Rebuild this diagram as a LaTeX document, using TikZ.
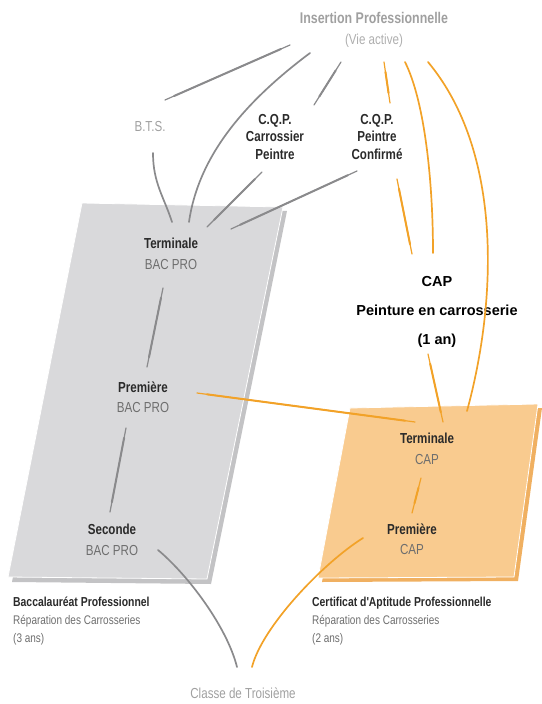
\documentclass[tikz,border=0pt]{standalone}
\usepackage{fontspec}
\setmainfont{Liberation Sans}
\newfontfamily\cond[FakeStretch=0.8]{Liberation Sans}
\definecolor{grayface}{HTML}{D9D9DB}
\definecolor{grayshadow}{HTML}{C3C3C5}
\definecolor{orangeface}{HTML}{F9CB8F}
\definecolor{orangeshadow}{HTML}{F0B061}
\definecolor{glinec}{HTML}{8A8A8C}
\definecolor{olinec}{HTML}{F2A228}
\definecolor{darktext}{HTML}{2A2A2A}
\definecolor{midtext}{HTML}{6E6E6E}
\definecolor{lighttext}{HTML}{A0A0A0}
\tikzset{
  gcurve/.style={draw=glinec, line width=1.7pt, line cap=round},
  ocurve/.style={draw=olinec, line width=1.7pt, line cap=round},
  gline/.style={draw=glinec, line width=1.2pt, line cap=round,
    postaction={draw=glinec, line width=2.0pt, line cap=round, shorten <=10pt, shorten >=10pt}},
  oline/.style={draw=olinec, line width=1.2pt, line cap=round,
    postaction={draw=olinec, line width=2.0pt, line cap=round, shorten <=10pt, shorten >=10pt}},
  stage/.style={inner sep=0pt, align=center, font=\cond\fontsize{14.5}{20.5}\selectfont},
  cqp/.style={inner sep=0pt, align=center, text=darktext, font=\cond\bfseries\fontsize{14.5}{17.5}\selectfont},
  caption/.style={inner sep=0pt, align=left, anchor=north west, font=\cond\fontsize{12.5}{18}\selectfont},
}
\newcommand{\stg}[2]{{\bfseries\color{darktext}#1}\\{\color{midtext}#2}}
\newcommand{\cpt}[3]{{\bfseries\fontsize{13}{18}\selectfont\color{darktext}#1}\\{\color{midtext}#2}\\{\color{midtext}#3}}
\begin{document}
\begin{tikzpicture}[x=1pt,y=-1pt]
\useasboundingbox (0,0) rectangle (541,704);
% panels
\fill[grayshadow] (86,207) -- (287,211) -- (211,584) -- (12,582) -- cycle;
\filldraw[fill=grayface, draw=white, line width=0.8pt] (82,203) -- (283,207) -- (207,579) -- (8,577) -- cycle;
\fill[orangeshadow] (354,412) -- (542,408) -- (518,581) -- (322,582) -- cycle;
\filldraw[fill=orangeface, draw=white, line width=0.8pt] (350,408) -- (538,404) -- (514,577) -- (318,578) -- cycle;
% nodes
\node[stage] (ins) at (374,30) {{\bfseries\color{lighttext}\fontsize{15.5}{20}\selectfont Insertion Professionnelle}\\{\color{lighttext!85!white}(Vie active)}};
\node[stage, text=lighttext] (bts) at (150,127) {B.T.S.};
\node[cqp] (cqpa) at (275,137) {C.Q.P.\\Carrossier\\Peintre};
\node[cqp] (cqpb) at (377,137) {C.Q.P.\\Peintre\\Confirmé};
\node[inner sep=0pt, align=center, text=black, font=\bfseries\fontsize{14.5}{29}\selectfont] (cap) at (437,312) {CAP\\Peinture en carrosserie\\(1 an)};
\node[stage] (termbac) at (171,254) {\stg{Terminale}{BAC PRO}};
\node[stage] (prembac) at (143,397) {\stg{Première}{BAC PRO}};
\node[stage] (secbac) at (112,540) {\stg{Seconde}{BAC PRO}};
\node[stage] (termcap) at (427,449) {\stg{Terminale}{CAP}};
\node[stage] (premcap) at (412,539) {\stg{Première}{CAP}};
\node[caption] (bacl) at (13,597) {\cpt{Baccalauréat Professionnel}{Réparation des Carrosseries}{(3 ans)}};
\node[caption] (capl) at (312,597) {\cpt{Certificat d'Aptitude Professionnelle}{Réparation des Carrosseries}{(2 ans)}};
\node[stage, text=lighttext] (classe) at (243,693) {Classe de Troisième};
% gray connectors
\draw[gline] ([shift={(-84,15)}]ins.center) -- ([shift={(15,-27)}]bts.center);
\draw[gcurve] ([shift={(-64,23)}]ins.center) .. controls +(-60,45) and +(10,-70) .. ([shift={(18,-32)}]termbac.center);
\draw[gline] ([shift={(-33,32)}]ins.center) -- ([shift={(39,-32)}]cqpa.center);
\draw[gcurve] ([shift={(3,26)}]bts.center) .. controls +(0,30) and +(-8,-25) .. ([shift={(1,-32)}]termbac.center);
\draw[gline] ([shift={(-13,35)}]cqpa.center) -- ([shift={(36,-27)}]termbac.center);
\draw[gline] ([shift={(-20,34)}]cqpb.center) -- ([shift={(60,-25)}]termbac.center);
\draw[gline] ([shift={(-8,34)}]termbac.center) -- ([shift={(4,-30)}]prembac.center);
\draw[gline] ([shift={(-17,31)}]prembac.center) -- ([shift={(-2,-28)}]secbac.center);
\draw[gcurve] ([shift={(46,10)}]secbac.center) .. controls +(30,25) and +(-10,-40) .. ([shift={(-6,-26)}]classe.center);
% orange connectors
\draw[oline] ([shift={(10,32)}]ins.center) -- ([shift={(13,-34)}]cqpb.center);
\draw[oline] ([shift={(20,42)}]cqpb.center) -- ([shift={(-25,-58)}]cap.center);
\draw[ocurve] ([shift={(31,32)}]ins.center) .. controls +(20,40) and +(0,-70) .. ([shift={(-4,-59)}]cap.center);
\draw[ocurve] ([shift={(54,32)}]ins.center) .. controls +(75,90) and +(30,-110) .. ([shift={(40,-38)}]termcap.center);
\draw[oline] ([shift={(-9,42)}]cap.center) -- ([shift={(16,-27)}]termcap.center);
\draw[oline] ([shift={(54,-4)}]prembac.center) -- ([shift={(-12,-27)}]termcap.center);
\draw[oline] ([shift={(-6,29)}]termcap.center) -- ([shift={(0,-26)}]premcap.center);
\draw[ocurve] ([shift={(-49,-1)}]premcap.center) .. controls +(-40,25) and +(10,-40) .. ([shift={(9,-26)}]classe.center);
\end{tikzpicture}
\end{document}
